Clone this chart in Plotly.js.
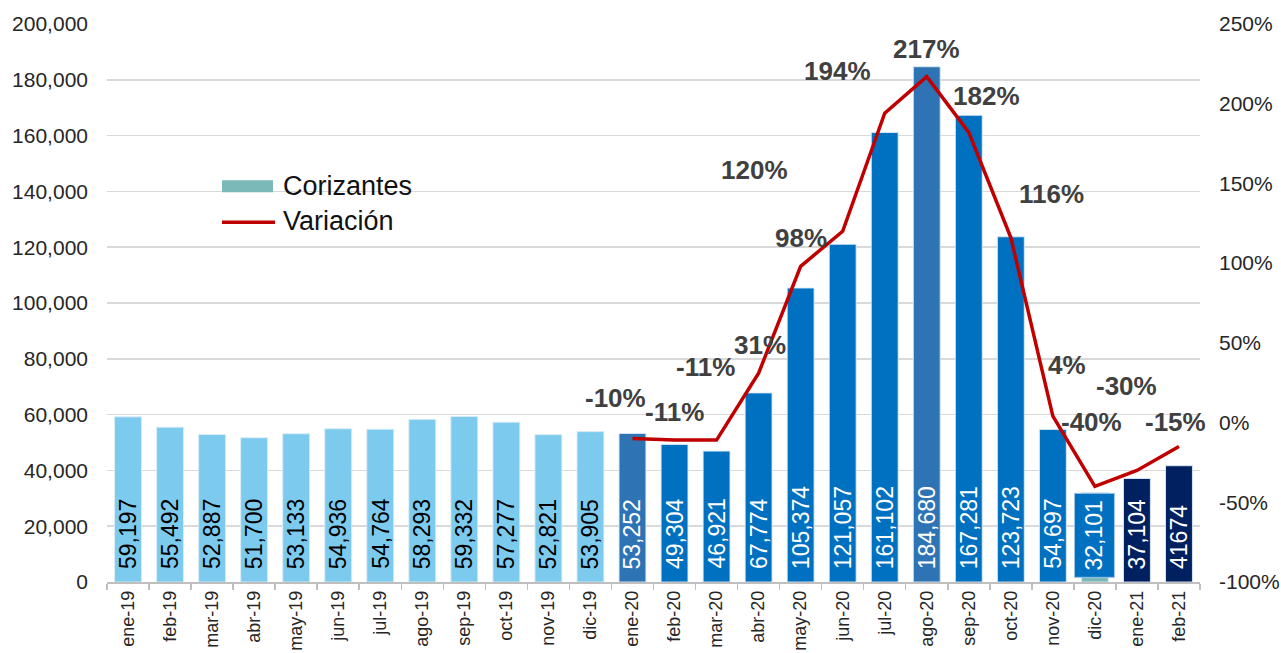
<!DOCTYPE html>
<html>
<head>
<meta charset="utf-8">
<script src="https://cdn.plot.ly/plotly-3.0.1.min.js"></script>
<style>
  html, body { margin: 0; padding: 0; background: #ffffff; }
  #chart { width: 1281px; height: 653px; }
</style>
</head>
<body>
<div id="chart"></div>
<script>
// ---- Data ----
const months = ['ene-19','feb-19','mar-19','abr-19','may-19','jun-19','jul-19','ago-19','sep-19','oct-19','nov-19','dic-19',
                'ene-20','feb-20','mar-20','abr-20','may-20','jun-20','jul-20','ago-20','sep-20','oct-20','nov-20','dic-20',
                'ene-21','feb-21'];
const corizantes = [59197,55492,52887,51700,53133,54936,54764,58293,59332,57277,52821,53905,
                    53252,49304,46921,67774,105374,121057,161102,184680,167281,123723,54697,32101,
                    37104,41674];
const barLabels = ['59,197','55,492','52,887','51,700','53,133','54,936','54,764','58,293','59,332','57,277','52,821','53,905',
                   '53,252','49,304','46,921','67,774','105,374','121,057','161,102','184,680','167,281','123,723','54,697','32,101',
                   '37,104','41674'];
const variacion = [null,null,null,null,null,null,null,null,null,null,null,null,
                   -10,-11,-11,31,98,120,194,217,182,116,4,-40,-30,-15];
const varLabels = ['','','','','','','','','','','','',
                   '-10%','-11%','-11%','31%','98%','120%','194%','217%','182%','116%','4%','-40%','-30%','-15%'];
const yTicks = [0,20000,40000,60000,80000,100000,120000,140000,160000,180000,200000];
const y2Ticks = [-100,-50,0,50,100,150,200,250];
const y2TickText = ['-100%','-50%','0%','50%','100%','150%','200%','250%'];

// ---- Style (label offsets in px, not data) ----
const labelDx = [0,0,0,0,0,0,0,0,0,0,0,0, -17,0,-11,1,0,-88,-47,0,18,41,14,-3,-10,-3];
const labelDy = [0,0,0,0,0,0,0,0,0,0,0,0, 41,28,73,28,28,61,42,28,36,44,51,64,84,24];

const LIGHT = '#7ccbee', STEEL = '#2e74b5', BLUE = '#0070c0', NAVY = '#002060', TEAL = '#7ab9b7';
const boxIdx = months.indexOf('dic-20');
const barColors = months.map((m, i) => {
  if (m.endsWith('-19')) return LIGHT;
  if (m === 'ene-20' || m === 'ago-20') return STEEL;
  if (m.endsWith('-21')) return NAVY;
  if (i === boxIdx) return TEAL;
  return BLUE;
});
const textColors = months.map(m => m.endsWith('-19') ? '#000000' : '#ffffff');

const axisFont = "'Liberation Sans', Arial, sans-serif";
const barFont = "'Liberation Sans', Arial, sans-serif";

const bars = {
  type: 'bar', name: 'Corizantes', x: months, y: corizantes,
  width: 0.64,
  marker: { color: barColors, line: { color: 'rgba(220,235,245,0.9)', width: 1 } },
  hoverinfo: 'x+y', showlegend: false
};
const line = {
  type: 'scatter', mode: 'lines', name: 'Variación', x: months, y: variacion, yaxis: 'y2',
  line: { color: '#c00000', width: 3.5 }, connectgaps: false, showlegend: false
};

const annotations = [];
// bar value labels, rotated, near the base
months.forEach((m, i) => {
  if (i === boxIdx) return;
  annotations.push({
    x: m, y: 0, xref: 'x', yref: 'y', yanchor: 'bottom', yshift: 11,
    showarrow: false, text: barLabels[i], textangle: -90,
    font: { family: barFont, size: 23, color: textColors[i] }
  });
});
// variation labels
months.forEach((m, i) => {
  if (variacion[i] === null) return;
  annotations.push({
    x: m, y: variacion[i], xref: 'x', yref: 'y2', showarrow: false,
    text: varLabels[i], xshift: labelDx[i], yshift: labelDy[i],
    font: { family: axisFont, size: 26, color: '#404040', weight: 'bold' }
  });
});
// dic-20 label box
annotations.push({
  x: months[boxIdx], y: corizantes[boxIdx], xref: 'x', yref: 'y', yanchor: 'top',
  showarrow: false, text: barLabels[boxIdx], textangle: -90,
  width: 81, height: 37, bgcolor: BLUE, bordercolor: '#9fc6e8', borderwidth: 1,
  font: { family: barFont, size: 23, color: '#ffffff' }
});

// custom legend (paper coords of plot area)
const P = (px) => (px - 107) / 1093;
const Q = (py) => (582.5 - py) / 559;
annotations.push({ x: P(281), y: Q(186), xref: 'paper', yref: 'paper', xanchor: 'left', yanchor: 'middle',
  showarrow: false, text: 'Corizantes', font: { family: axisFont, size: 27, color: '#111111' } });
annotations.push({ x: P(281), y: Q(221), xref: 'paper', yref: 'paper', xanchor: 'left', yanchor: 'middle',
  showarrow: false, text: 'Variación', font: { family: axisFont, size: 27, color: '#111111' } });
const shapes = [
  { type: 'rect', xref: 'paper', yref: 'paper', x0: P(222), x1: P(273), y0: Q(192), y1: Q(180),
    fillcolor: TEAL, line: { width: 0 } },
  { type: 'line', xref: 'paper', yref: 'paper', x0: P(222), x1: P(275), y0: Q(222), y1: Q(222),
    line: { color: '#c00000', width: 3.5 } }
];

const layout = {
  width: 1281, height: 653,
  margin: { l: 107, r: 81, t: 24, b: 71, pad: 0 },
  paper_bgcolor: '#ffffff', plot_bgcolor: '#ffffff',
  barmode: 'overlay', showlegend: false,
  font: { family: axisFont, color: '#262626' },
  xaxis: {
    type: 'category', range: [-0.5, months.length - 0.5], tickangle: -90,
    tickson: 'boundaries', ticks: 'outside', ticklen: 6, tickcolor: '#bfbfbf', tickwidth: 1.5,
    showline: true, linecolor: '#bfbfbf', linewidth: 1.5, showgrid: false,
    tickfont: { family: axisFont, size: 18, color: '#262626' }
  },
  yaxis: {
    range: [0, 200000], tickvals: yTicks, tickformat: ',', showgrid: true,
    gridcolor: '#d9d9d9', gridwidth: 1.5, zeroline: false, showline: false, ticks: '',
    ticklabelstandoff: 18, tickfont: { family: axisFont, size: 21, color: '#262626' }
  },
  yaxis2: {
    overlaying: 'y', side: 'right', range: [-100, 250], tickmode: 'array',
    tickvals: y2Ticks, ticktext: y2TickText,
    showgrid: false, zeroline: false, showline: false, ticks: '',
    ticklabelstandoff: 18, tickfont: { family: axisFont, size: 21, color: '#262626' }
  },
  annotations: annotations,
  shapes: shapes
};

Plotly.newPlot('chart', [bars, line], layout, { displayModeBar: false, staticPlot: true });
</script>
</body>
</html>
